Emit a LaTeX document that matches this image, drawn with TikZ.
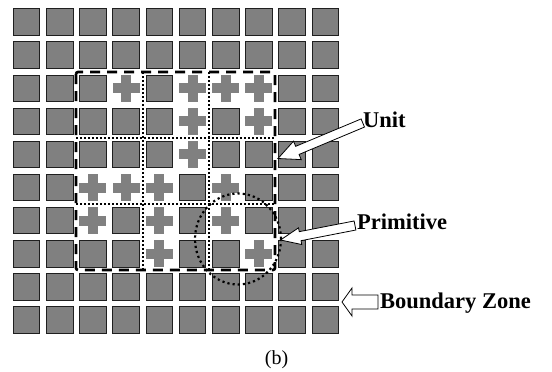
\documentclass[tikz,border=0pt]{standalone}
\usepackage{fontspec}
\setmainfont{Liberation Serif}
\usetikzlibrary{calc}
\definecolor{cellgray}{gray}{0.5}
\definecolor{edgegray}{gray}{0.12}
\newcommand\blockarr[6]{%
  % #1 name prefix, #2 tail, #3 tip, #4 shaft half width, #5 head half width, #6 head length (pt)
  \coordinate (#1H) at ($(#3)!#6pt!(#2)$);
  \coordinate (#1a) at ($(#2)!#4pt!90:(#3)$);
  \coordinate (#1b) at ($(#1H)!#4pt!90:(#3)$);
  \coordinate (#1c) at ($(#1H)!#5pt!90:(#3)$);
  \coordinate (#1d) at ($(#1H)!#5pt!-90:(#3)$);
  \coordinate (#1e) at ($(#1H)!#4pt!-90:(#3)$);
  \coordinate (#1f) at ($(#2)!#4pt!-90:(#3)$);
  \filldraw[blockarrow] (#1a) -- (#1b) -- (#1c) -- (#3) -- (#1d) -- (#1e) -- (#1f) -- cycle;
}
\tikzset{
  sq/.style={draw=edgegray, fill=cellgray, line width=0.9pt, minimum size=26.5pt, inner sep=0pt, outer sep=0pt},
  crossfill/.style={fill=cellgray},
  unitbox/.style={line width=2.6pt, dash pattern=on 10pt off 7pt, rounded corners=2pt},
  unitgrid/.style={line width=2pt, dash pattern=on 2pt off 2pt},
  primcircle/.style={line width=2.2pt, dash pattern=on 2.2pt off 3pt},
  blockarrow/.style={fill=white, draw=black, line width=0.8pt, line join=miter},
  lbl/.style={font=\bfseries\fontsize{22.5}{24}\selectfont, inner sep=0pt, anchor=base west},
  captext/.style={font=\fontsize{20}{22}\selectfont, inner sep=0pt, anchor=base}
}
\begin{document}
\begin{tikzpicture}[x=1pt,y=-1pt]
\useasboundingbox (0,0) rectangle (552,372);
\fill[white] (0,0) rectangle (552,372);
% squares
\foreach \j/\cols in {0/{0,1,2,3,4,5,6,7,8,9},1/{0,1,2,3,4,5,6,7,8,9},2/{0,1,2,4,8,9},3/{0,1,2,3,4,6,8,9},4/{0,1,2,3,4,6,7,8,9},5/{0,1,5,7,8,9},6/{0,1,3,5,7,8,9},7/{0,1,2,3,5,6,8,9},8/{0,1,2,3,4,5,6,7,8,9},9/{0,1,2,3,4,5,6,7,8,9}}{
  \foreach \i in \cols {
    \node[sq] (s\i-\j) at ({26.5+33.2*\i},{22+33.1*\j}) {};
  }
}
% crosses
\foreach \i/\j in {3/2,5/2,6/2,7/2,5/3,7/3,5/4,2/5,3/5,4/5,6/5,2/6,4/6,6/6,4/7,7/7}{
  \fill[crossfill] ({26.5+33.2*\i-13.5},{22+33.1*\j-5}) rectangle ({26.5+33.2*\i+13.5},{22+33.1*\j+5});
  \fill[crossfill] ({26.5+33.2*\i-5},{22+33.1*\j-13.5}) rectangle ({26.5+33.2*\i+5},{22+33.1*\j+13.5});
}
% unit grid (dotted)
\draw[unitgrid] (142.7,72) -- (142.7,270);
\draw[unitgrid] (209.2,72) -- (209.2,270);
\draw[unitgrid] (76,137.5) -- (275,137.5);
\draw[unitgrid] (76,204) -- (275,204);
% dashed outer rectangle
\draw[unitbox] (76,72) rectangle (275,270);
% primitive circle
\draw[primcircle] (238,239) ellipse [x radius=43, y radius=45.5];
% labels
\node[lbl] (unit) at (363,127) {Unit};
\node[lbl] (prim) at (357,229) {Primitive};
\node[lbl] (bz) at (380,308) {Boundary Zone};
\node[captext] (b) at (276.5,364.5) {(b)};
% arrows
\coordinate (unitT) at (362.8,123);
\coordinate (unitP) at (278,158.5);
\coordinate (primT) at (355,225.5);
\coordinate (primP) at (280.5,240);
\coordinate (bzT) at (378,302);
\coordinate (bzP) at (342,302);
\blockarr{ua}{unitT}{unitP}{4.4}{10}{21}
\blockarr{pa}{primT}{primP}{4.6}{8.5}{20}
\blockarr{ba}{bzT}{bzP}{7}{14}{10}
\end{tikzpicture}
\end{document}
